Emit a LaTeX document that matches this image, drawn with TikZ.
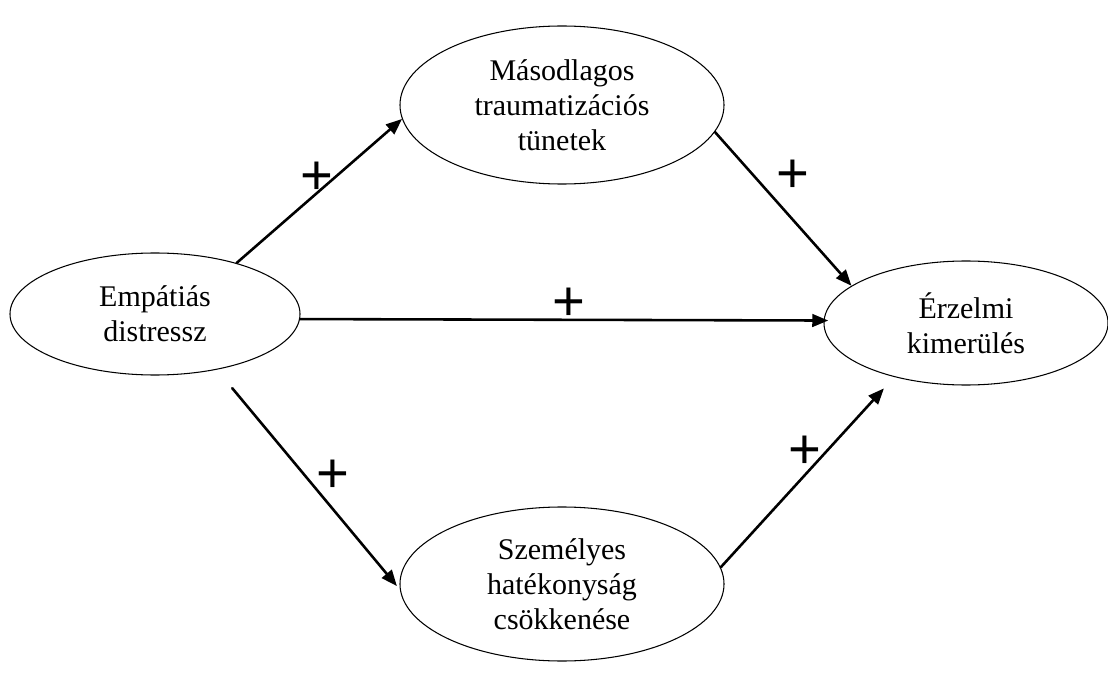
\documentclass[tikz,border=0pt]{standalone}
\usepackage{fontspec}
\setmainfont{Liberation Serif}
\newfontfamily\signfont{Liberation Sans}
\usetikzlibrary{shapes.geometric, arrows.meta}

\begin{document}
\begin{tikzpicture}[x=0.015cm, y=-0.015cm, line cap=round, line join=round,
		var/.style={ellipse, draw, line width=0.45pt, inner sep=0pt, align=center,
			font=\fontsize{12.8}{15}\selectfont},
		effect/.style={-{Triangle[length=0.24cm, width=0.19cm]}, line width=1.1pt},
		sign/.style={inner sep=0pt, font=\signfont\fontsize{24}{24}\selectfont}]
	% Window bounds
	\useasboundingbox (0,0) rectangle (1108,680);
	
	% Variables
	\node[var, minimum width=4.35cm, minimum height=1.83cm] (emp) at (155,314) {Empátiás\\distressz};
	\node[var, minimum width=4.86cm, minimum height=2.37cm] (mas) at (562,105) {Másodlagos\\traumatizációs\\tünetek};
	\node[var, minimum width=4.86cm, minimum height=2.31cm] (sze) at (562,584) {Személyes\\hatékonyság\\csökkenése};
	\node[var, minimum width=4.26cm, minimum height=1.86cm] (erz) at (966,323) {Érzelmi\\kimerülés};
	
	% Paths between the variables
	\draw[effect] (emp.32) -- (mas.185);
	\draw[effect] (mas.-10) -- (erz.162);
	\draw[effect, shorten >=-0.07cm] (emp.-2) -- (erz.179);
	\draw[effect, shorten <=0.36cm, shorten >=0.07cm] (emp.-42) -- (sze.182);
	\draw[effect, shorten >=0.23cm] (sze.6) -- (erz.217);
	
	% Signs of the paths
	\node[sign] (p1) at (317,178) {+};
	\node[sign] (p2) at (793,176) {+};
	\node[sign] (p3) at (569,304) {+};
	\node[sign] (p4) at (333,476) {+};
	\node[sign] (p5) at (805,452) {+};
\end{tikzpicture}
\end{document}
